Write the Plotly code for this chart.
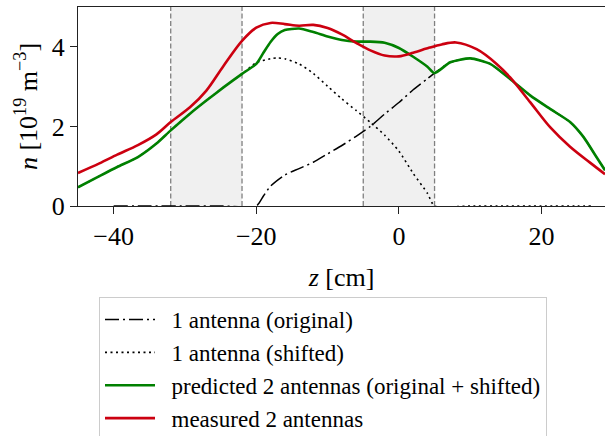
import plotly.graph_objects as go

# ---------------- data ----------------
z_meas = [-45, -42, -39.5, -36.6, -34, -32, -29.3, -27, -24.6, -22, -20, -18, -16, -14, -12, -10,
          -8, -6, -4, -2, 0, 2, 4.3, 6, 8, 10.9, 13.7, 15.6, 18.4, 21.2, 24, 26.8, 28.9]
n_meas = [0.83, 1.07, 1.29, 1.53, 1.80, 2.11, 2.48, 2.90, 3.52, 4.15, 4.48, 4.60, 4.57, 4.53, 4.55, 4.47,
          4.31, 4.10, 3.91, 3.78, 3.76, 3.85, 3.98, 4.06, 4.11, 3.94, 3.57, 3.23, 2.61, 1.98, 1.49, 1.09, 0.80]

z_pred = [-45, -42, -39.5, -36.6, -34, -32, -29.3, -27, -24.6, -22, -20, -19, -18, -17, -16, -14, -12, -10,
          -8, -6, -4, -2, 0, 2, 4, 5, 7.2, 10, 12.8, 15.6, 18.4, 21.2, 24, 25.9, 27.7, 28.9]
n_pred = [0.47, 0.75, 0.98, 1.23, 1.57, 1.90, 2.32, 2.65, 2.98, 3.32, 3.57, 3.85, 4.12, 4.32, 4.42, 4.46, 4.37, 4.26,
          4.17, 4.13, 4.13, 4.10, 3.97, 3.75, 3.50, 3.34, 3.61, 3.71, 3.57, 3.19, 2.78, 2.44, 2.11, 1.73, 1.23, 0.90]

z_orig = [-40, -35, -30, -25, -20, -19, -18, -16, -14, -12, -10, -8, -6, -4, -2, 0, 2, 4, 5,
          7.2, 10, 12.8, 15.6, 18.4, 21.2, 24, 25.9, 27.7, 28.9]
n_orig = [0, 0, 0, 0, 0, 0.25, 0.50, 0.78, 0.94, 1.10, 1.31, 1.52, 1.75, 2.00, 2.31, 2.60, 2.92, 3.20, 3.34,
          3.61, 3.71, 3.57, 3.19, 2.78, 2.44, 2.11, 1.73, 1.23, 0.90]

z_shift = [-45, -42, -39.5, -36.6, -34, -32, -29.3, -27, -24.6, -22, -20, -18, -17, -16, -14, -12, -10,
           -8, -6, -4, -2, 0, 2, 4, 5, 10, 15, 20, 25, 27]
n_shift = [0.47, 0.75, 0.98, 1.23, 1.57, 1.90, 2.32, 2.65, 2.98, 3.32, 3.60, 3.70, 3.72, 3.70, 3.57, 3.33, 3.01,
           2.69, 2.40, 2.10, 1.78, 1.38, 0.82, 0.32, 0, 0, 0, 0, 0, 0]

antenna_spans = [(-32, -22), (-5, 5)]

x_ticks = [-40, -20, 0, 20]
x_ticktext = ["\u221240", "\u221220", "0", "20"]
y_ticks = [0, 2, 4]

series_names = ["1 antenna (original)", "1 antenna (shifted)",
                "predicted 2 antennas (original + shifted)", "measured 2 antennas"]

FONT = "Liberation Serif"
PAD = "\u00a0\u00a0"

fig = go.Figure()

fig.add_trace(go.Scatter(x=z_orig, y=n_orig, mode="lines", name=PAD + series_names[0],
                         line=dict(color="black", width=1.5, dash="14px,4px,2px,4px", shape="spline", smoothing=0.6)))
fig.add_trace(go.Scatter(x=z_shift, y=n_shift, mode="lines", name=PAD + series_names[1],
                         line=dict(color="black", width=1.6, dash="2px,3.5px", shape="spline", smoothing=0.6)))
fig.add_trace(go.Scatter(x=z_pred, y=n_pred, mode="lines", name=PAD + series_names[2],
                         line=dict(color="#008000", width=2.6, shape="spline", smoothing=0.6)))
fig.add_trace(go.Scatter(x=z_meas, y=n_meas, mode="lines", name=PAD + series_names[3],
                         line=dict(color="#cc0010", width=2.6, shape="spline", smoothing=0.9)))

for x0, x1 in antenna_spans:
    fig.add_vrect(x0=x0, x1=x1, fillcolor="#f0f0f0", opacity=1, line_width=0, layer="below")
    for xv in (x0, x1):
        fig.add_shape(type="line", x0=xv, x1=xv, y0=0, y1=1, xref="x", yref="paper",
                      line=dict(color="#808080", width=1.3, dash="5px,2.5px"), layer="below")

fig.update_layout(
    width=605, height=436, autosize=False,
    margin=dict(l=78, r=0, t=7, b=230, autoexpand=False),
    plot_bgcolor="white", paper_bgcolor="white",
    font=dict(family=FONT, color="black", size=23),
    showlegend=True,
    legend=dict(x=21 / 527, y=(206 - 297) / 199, xanchor="left", yanchor="top",
                bordercolor="#cccccc", borderwidth=1, bgcolor="white",
                font=dict(family=FONT, size=23, color="black"), itemwidth=50,
                traceorder="normal"),
    xaxis=dict(range=[-45, 28.9], tickvals=x_ticks, ticktext=x_ticktext, showgrid=False, zeroline=False,
               showline=True, mirror=True, linecolor="#222222", linewidth=1.2,
               ticks="outside", ticklen=7, tickwidth=1.1, tickcolor="#222222",
               tickfont=dict(family=FONT, size=26, color="black"),
               title=dict(text="<i>z</i> [cm]", font=dict(family=FONT, size=26, color="black"), standoff=17)),
    yaxis=dict(range=[0, 5], tickvals=y_ticks, showgrid=False, zeroline=False,
               showline=True, mirror=False, linecolor="#222222", linewidth=1.2,
               ticks="outside", ticklen=7, tickwidth=1.1, tickcolor="#222222",
               tickfont=dict(family=FONT, size=26, color="black"),
               title=dict(text="<i>n</i> [10<sup>19</sup> m<sup>\u22123</sup>]",
                          font=dict(family=FONT, size=26, color="black"), standoff=6)),
)

fig.write_html("out.html")
